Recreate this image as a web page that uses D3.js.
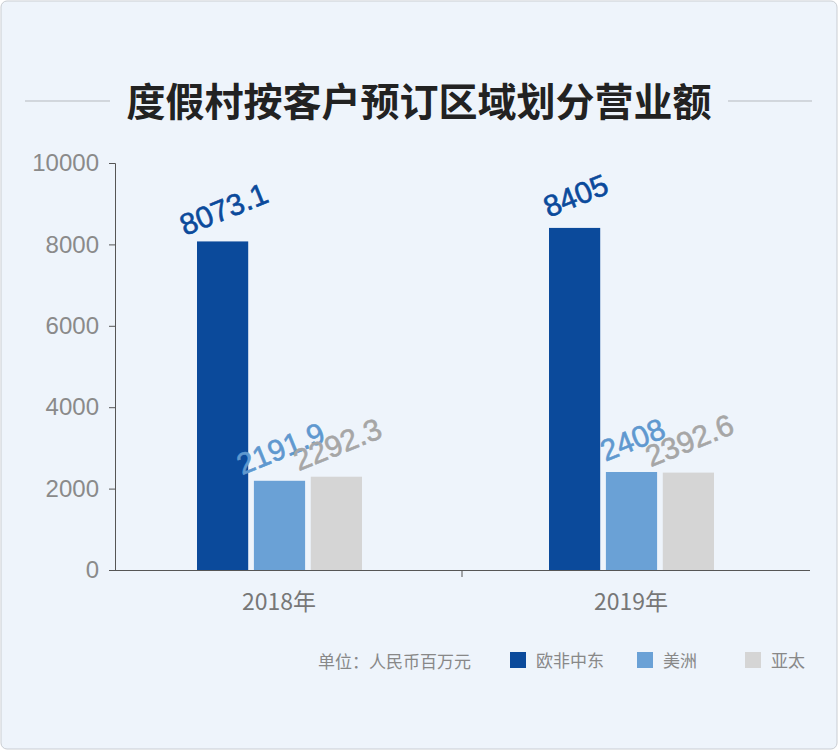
<!DOCTYPE html>
<html><head><meta charset="utf-8">
<script src="https://cdn.jsdelivr.net/npm/d3@7"></script>
<style>body{margin:0;background:#fff;}svg{display:block;font-family:"Noto Sans CJK SC","Noto Sans",sans-serif;}</style>
</head><body><div id="chart"></div>
<script>
const years = ["2018年", "2019年"];
const regions = ["欧非中东", "美洲", "亚太"];
const emea = [8073.1, 8405];
const americas = [2191.9, 2408];
const apac = [2292.3, 2392.6];
const yTicks = [0, 2000, 4000, 6000, 8000, 10000];
const colors = ["#0b4a9b", "#6aa1d6", "#d5d5d5"];
const labelColors = ["#0b4a9b", "#5f98cf", "#a6a6a6"];

const W = 838, H = 750;
const svg = d3.select("#chart").append("svg").attr("width", W).attr("height", H);
svg.append("rect").attr("x", 1).attr("y", 1).attr("width", W - 2).attr("height", H - 2)
  .attr("fill", "#eef4fb").attr("stroke", "#c9cdd2").attr("rx", 6);

// title
svg.append("text").attr("x", W / 2).attr("y", 116).attr("text-anchor", "middle")
  .attr("font-size", 39).attr("font-weight", "bold").attr("fill", "#222")
  .text("度假村按客户预订区域划分营业额");
svg.append("line").attr("x1", 25).attr("x2", 110).attr("y1", 101).attr("y2", 101).attr("stroke", "#b5b9be");
svg.append("line").attr("x1", 728).attr("x2", 812).attr("y1", 101).attr("y2", 101).attr("stroke", "#b5b9be");

const y = d3.scaleLinear().domain([0, 10000]).range([570, 163]);
const x0 = d3.scaleBand().domain(years).range([106, 810]);
const x1 = d3.scaleBand().domain(regions).range([0, 165]).paddingInner(0.1);

const yAxis = svg.append("g").attr("transform", "translate(115,0)")
  .call(d3.axisLeft(y).tickValues(yTicks).tickFormat(d3.format("d")).tickSize(6).tickPadding(10));
yAxis.select(".domain").attr("stroke", "#555");
yAxis.selectAll(".tick line").attr("stroke", "#555");
yAxis.selectAll("text").attr("font-size", 24).attr("fill", "#8a8a8a").attr("font-family", "Liberation Sans, sans-serif");

svg.append("line").attr("x1", 115).attr("x2", 810).attr("y1", 570.5).attr("y2", 570.5).attr("stroke", "#555");
svg.append("line").attr("x1", 462).attr("x2", 462).attr("y1", 570).attr("y2", 577).attr("stroke", "#555");

const data = years.map((yr, i) => ({ yr, vals: [emea[i], americas[i], apac[i]] }));
const g = svg.selectAll(".grp").data(data).join("g")
  .attr("transform", d => `translate(${x0(d.yr) + x0.bandwidth() / 2 - 85},0)`);
g.selectAll("rect").data(d => d.vals.map((v, j) => ({ v, r: regions[j], j }))).join("rect")
  .attr("x", d => x1(d.r)).attr("width", x1.bandwidth())
  .attr("y", d => y(d.v)).attr("height", d => 570 - y(d.v)).attr("fill", d => colors[d.j]);
g.selectAll("text.v").data(d => d.vals.map((v, j) => ({ v, r: regions[j], j }))).join("text")
  .attr("class", "v")
  .attr("transform", d => `translate(${x1(d.r) + x1.bandwidth() / 2 + 2},${y(d.v) - 30}) rotate(-22)`)
  .attr("text-anchor", "middle").attr("dominant-baseline", "middle").attr("font-size", 30)
  .attr("font-family", "Liberation Sans, sans-serif").attr("stroke-width", 0.6)
  .attr("stroke", d => labelColors[d.j])
  .attr("fill", d => labelColors[d.j]).text(d => d.v);

svg.selectAll("text.cat").data(years).join("text").attr("class", "cat")
  .attr("x", d => x0(d) + x0.bandwidth() / 2 - 3).attr("y", 610).attr("text-anchor", "middle")
  .attr("font-size", 23).attr("fill", "#777").text(d => d);

// legend
svg.append("text").attr("x", 318).attr("y", 668).attr("font-size", 17).attr("fill", "#888").text("单位：人民币百万元");
const lx = [510, 637, 745];
const lg = svg.selectAll(".lg").data(regions).join("g").attr("transform", (d, i) => `translate(${lx[i]},652)`);
lg.append("rect").attr("width", 16).attr("height", 16).attr("fill", (d, i) => colors[i]);
lg.append("text").attr("x", 26).attr("y", 15).attr("font-size", 17).attr("fill", "#888").text(d => d);
</script></body></html>
